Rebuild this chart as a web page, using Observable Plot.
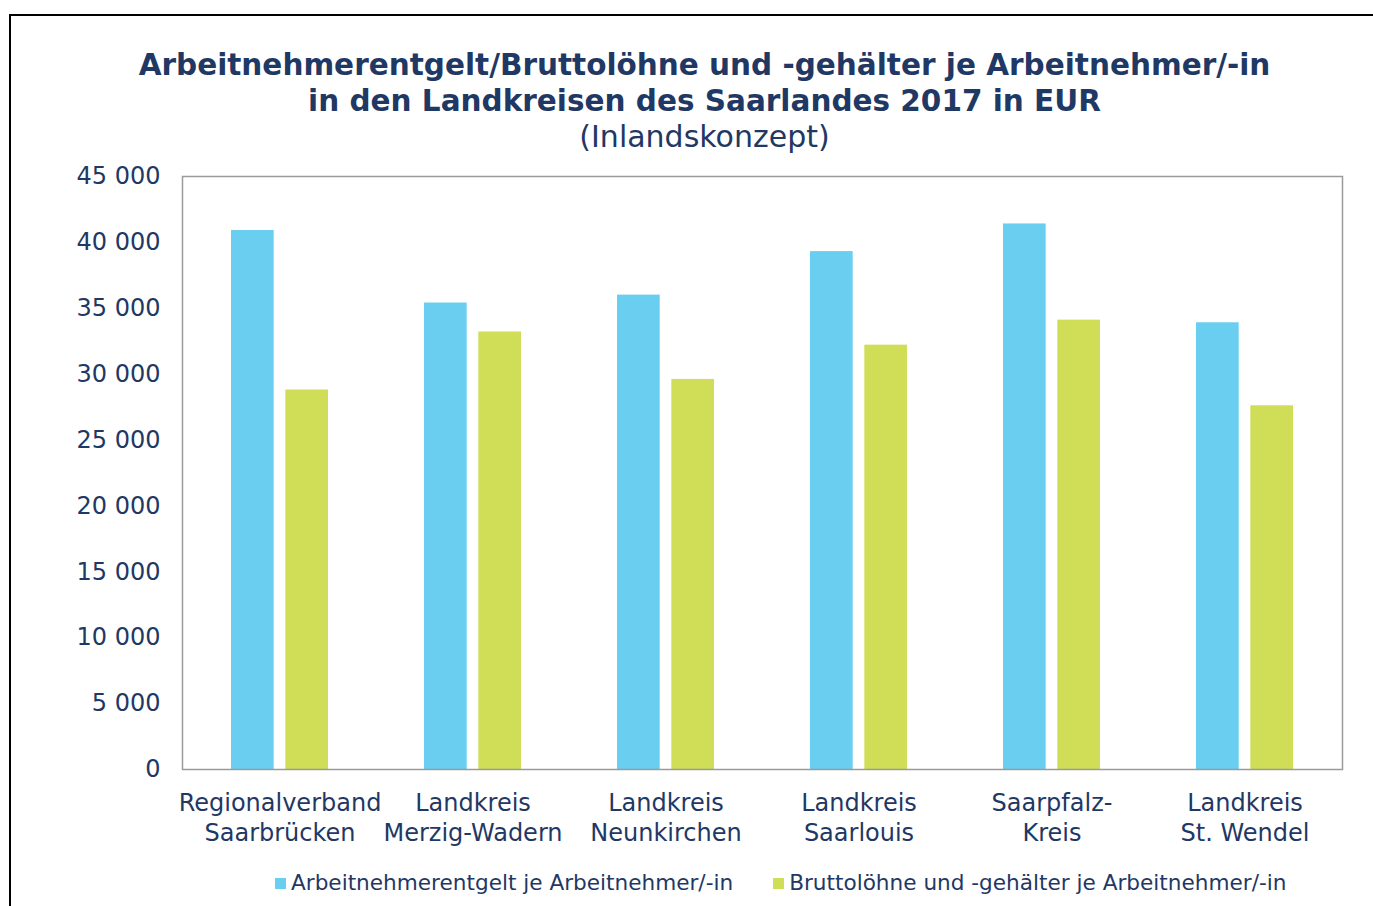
<!DOCTYPE html>
<html>
<head>
<meta charset="utf-8">
<script src="https://cdn.jsdelivr.net/npm/d3@7"></script>
<script src="https://cdn.jsdelivr.net/npm/@observablehq/plot@0.6"></script>
<style>
  html, body { margin: 0; padding: 0; background: #fff; }
  body { width: 1373px; height: 906px; position: relative; overflow: hidden; font-family: "DejaVu Sans", Verdana, sans-serif; color: #1f3864; }
  #box { position: absolute; left: 9px; top: 14px; width: 1380px; height: 900px; border-left: 2px solid #000; border-top: 2px solid #000; box-sizing: border-box; }
  #title { position: absolute; left: 9px; width: 1391px; top: 47px; text-align: center; font-weight: bold; font-size: 29.5px; line-height: 36px; color: #1f3864; }
  #subtitle { position: absolute; left: 9px; width: 1391px; top: 119px; text-align: center; font-size: 30px; line-height: 36px; color: #1f3864; }
  #chart { position: absolute; left: 0; top: 155px; }
  #legend { position: absolute; left: 275px; top: 870px; font-size: 21.6px; line-height: 26px; color: #1f3864; white-space: nowrap; }
  .item { display: inline-block; margin-right: 40px; }
  .sw { display: inline-block; width: 11px; height: 11px; margin-right: 5px; vertical-align: 1px; }
</style>
</head>
<body>
<div id="box"></div>
<div id="title">Arbeitnehmerentgelt/Bruttolöhne und -gehälter je Arbeitnehmer/-in<br>in den Landkreisen des Saarlandes 2017 in EUR</div>
<div id="subtitle">(Inlandskonzept)</div>
<div id="chart"></div>
<div id="legend"></div>
<script>
const categories = [
  "Regionalverband\nSaarbrücken",
  "Landkreis\nMerzig-Wadern",
  "Landkreis\nNeunkirchen",
  "Landkreis\nSaarlouis",
  "Saarpfalz-\nKreis",
  "Landkreis\nSt. Wendel"
];
const seriesNames = [
  "Arbeitnehmerentgelt je Arbeitnehmer/-in",
  "Bruttolöhne und -gehälter je Arbeitnehmer/-in"
];
const entgelt = [40900, 35400, 36000, 39300, 41400, 33900];
const loehne  = [28800, 33200, 29600, 32200, 34100, 27600];
const yTicks = [0, 5000, 10000, 15000, 20000, 25000, 30000, 35000, 40000, 45000];
const colors = ["#6acef0", "#cfdd57"];
const textColor = "#1f3864";

const dataA = categories.map((c, i) => ({cat: c, value: entgelt[i]}));
const dataB = categories.map((c, i) => ({cat: c, value: loehne[i]}));
const fmt = d => d3.format(",")(d).replace(/,/g, " ");

const plot = Plot.plot({
  width: 1373,
  height: 700,
  marginTop: 21,
  marginLeft: 182,
  marginRight: 31,
  marginBottom: 86,
  style: {fontFamily: "'DejaVu Sans', Verdana, sans-serif", fontSize: "24px", color: textColor, background: "transparent"},
  x: {domain: categories, padding: 0, label: null},
  y: {domain: [0, 45000], label: null},
  marks: [
    Plot.barY(dataA, {x: "cat", y: "value", fill: colors[0], insetLeft: 48, insetRight: 102.33}),
    Plot.barY(dataB, {x: "cat", y: "value", fill: colors[1], insetLeft: 102.33, insetRight: 48}),
    Plot.frame({stroke: "#9a9a9a", strokeWidth: 1.5}),
    Plot.axisY({ticks: yTicks, tickFormat: fmt, tickSize: 0, tickPadding: 22, fontSize: 24, fill: textColor, label: null}),
    Plot.axisX({tickSize: 0, tickPadding: 20, fontSize: 24, lineHeight: 1.25, fill: textColor, label: null})
  ]
});
document.getElementById("chart").appendChild(plot);

const legend = document.getElementById("legend");
seriesNames.forEach((n, i) => {
  const it = document.createElement("span");
  it.className = "item";
  const sw = document.createElement("span");
  sw.className = "sw";
  sw.style.background = colors[i];
  it.appendChild(sw);
  it.appendChild(document.createTextNode(n));
  legend.appendChild(it);
});
</script>
</body>
</html>
